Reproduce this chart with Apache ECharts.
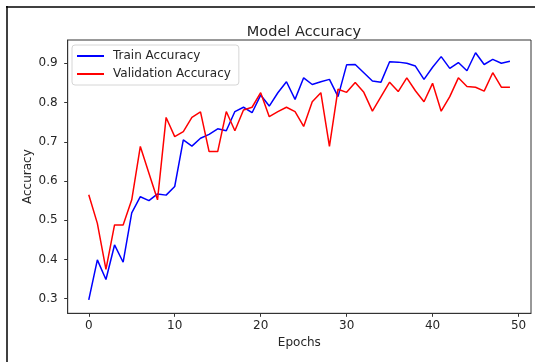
<!DOCTYPE html>
<html>
<head>
<meta charset="utf-8">
<script src="https://cdn.jsdelivr.net/npm/echarts@6/dist/echarts.min.js"></script>
<style>
  html, body { margin: 0; padding: 0; background: #fff; }
  #chart { width: 535px; height: 362px; }
</style>
</head>
<body>
<div id="chart"></div>
<script>
const epochs = Array.from({ length: 50 }, (_, i) => i)
const trainAcc = [
  0.297, 0.399, 0.349, 0.437, 0.393, 0.519, 0.560, 0.550, 0.567, 0.564,
  0.586, 0.705, 0.689, 0.709, 0.719, 0.733, 0.728, 0.777, 0.788, 0.774,
  0.819, 0.791, 0.825, 0.853, 0.808, 0.863, 0.846, 0.853, 0.859, 0.815,
  0.896, 0.897, 0.876, 0.855, 0.852, 0.904, 0.903, 0.900, 0.893, 0.859,
  0.890, 0.917, 0.887, 0.902, 0.881, 0.927, 0.897, 0.910, 0.900, 0.905,
]
const valAcc = [
  0.565, 0.492, 0.375, 0.488, 0.488, 0.552, 0.688, 0.620, 0.552, 0.762,
  0.713, 0.726, 0.762, 0.776, 0.675, 0.675, 0.777, 0.728, 0.781, 0.788,
  0.825, 0.764, 0.777, 0.788, 0.777, 0.739, 0.802, 0.825, 0.688, 0.834,
  0.826, 0.851, 0.826, 0.778, 0.815, 0.852, 0.828, 0.863, 0.830, 0.802,
  0.849, 0.778, 0.815, 0.863, 0.841, 0.839, 0.829, 0.876, 0.839, 0.839,
]
const xTicks = [0, 10, 20, 30, 40, 50]
const yTicks = [0.3, 0.4, 0.5, 0.6, 0.7, 0.8, 0.9]

const font = 'DejaVu Sans'
const ink = '#262626'

const chart = echarts.init(document.getElementById('chart'))
chart.setOption({
  backgroundColor: '#fff',
  animation: false,
  title: {
    text: 'Model Accuracy',
    left: 299,
    top: 20,
    textAlign: 'center',
    textStyle: { fontFamily: font, fontSize: 14.5, fontWeight: 'normal', color: ink },
  },
  grid: { left: 67.7, right: 4, top: 40, bottom: 48.7, show: true, borderColor: '#333', borderWidth: 1 },
  legend: {
    orient: 'vertical',
    left: 72,
    top: 45,
    padding: [5, 8, 5, 5],
    itemGap: 6,
    itemWidth: 27,
    itemHeight: 2,
    icon: 'rect',
    backgroundColor: 'rgba(255,255,255,0.8)',
    borderColor: '#d6d6d6',
    borderWidth: 1,
    borderRadius: 3,
    textStyle: { fontFamily: font, fontSize: 12, color: ink, padding: [0, 0, 0, 4], lineHeight: 12 },
  },
  xAxis: {
    type: 'value',
    min: -2.45,
    max: 51.45,
    name: 'Epochs',
    nameLocation: 'middle',
    nameGap: 24,
    nameMoveOverlap: false,
    nameTextStyle: { fontFamily: font, fontSize: 12, color: ink },
    splitLine: { show: false },
    axisLine: { onZero: false, lineStyle: { color: '#333', width: 1 } },
    axisTick: { length: 3.5, lineStyle: { color: '#333' }, customValues: xTicks },
    axisLabel: { fontFamily: font, fontSize: 12, color: ink, margin: 7, customValues: xTicks },
  },
  yAxis: {
    type: 'value',
    min: 0.2628,
    max: 0.9594,
    name: 'Accuracy',
    nameLocation: 'middle',
    nameGap: 34,
    nameMoveOverlap: false,
    nameTextStyle: { fontFamily: font, fontSize: 12, color: ink },
    splitLine: { show: false },
    axisLine: { show: true, onZero: false, lineStyle: { color: '#333', width: 1 } },
    axisTick: { show: true, length: 3.5, lineStyle: { color: '#333' }, customValues: yTicks },
    axisLabel: {
      fontFamily: font,
      fontSize: 12,
      color: ink,
      margin: 10,
      customValues: yTicks,
      formatter: (v) => v.toFixed(1),
    },
  },
  graphic: [
    { type: 'line', shape: { x1: 7, y1: 6, x2: 7, y2: 362 }, style: { stroke: '#000', lineWidth: 1.5 } },
    { type: 'line', shape: { x1: 6, y1: 7, x2: 535, y2: 7 }, style: { stroke: '#000', lineWidth: 1.5 } },
  ],
  series: [
    {
      name: 'Train Accuracy',
      type: 'line',
      symbol: 'none',
      lineStyle: { color: '#0000ff', width: 1.5 },
      itemStyle: { color: '#0000ff' },
      data: epochs.map((e, i) => [e, trainAcc[i]]),
    },
    {
      name: 'Validation Accuracy',
      type: 'line',
      symbol: 'none',
      lineStyle: { color: '#ff0000', width: 1.5 },
      itemStyle: { color: '#ff0000' },
      data: epochs.map((e, i) => [e, valAcc[i]]),
    },
  ],
})
</script>
</body>
</html>
